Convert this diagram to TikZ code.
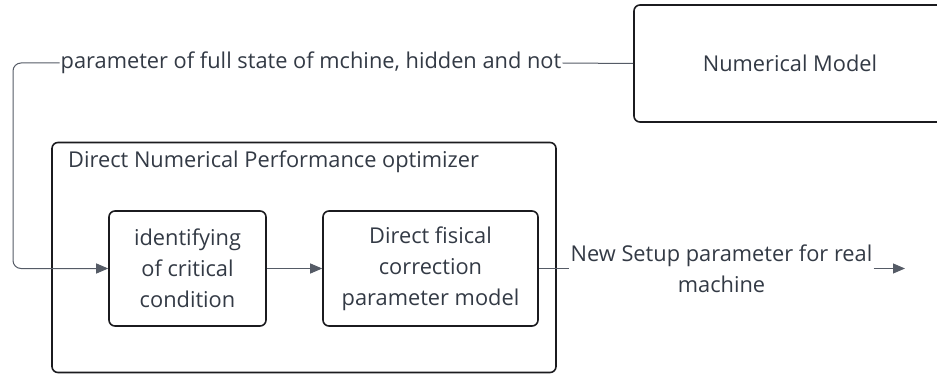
\documentclass[tikz,border=0pt]{standalone}
\usepackage{fontspec}
\setmainfont{Open Sans}
\usetikzlibrary{arrows.meta,positioning}
\definecolor{ink}{HTML}{333A45}
\definecolor{wire}{HTML}{555B66}
\definecolor{edge}{HTML}{1B1B1F}
\tikzset{
  x=1pt, y=-1pt,
  txt/.style={text=ink, font=\fontsize{21.8}{31}\selectfont},
  block/.style={draw=edge, line width=1.6pt, rounded corners=6pt, txt, align=center, inner sep=0pt},
  link/.style={draw=wire, line width=1pt, -{Triangle[length=12pt,width=10pt]}},
  plain/.style={draw=wire, line width=1pt}
}
\begin{document}
\begin{tikzpicture}
\clip (0,0) rectangle (937,374);
\fill[white] (0,0) rectangle (937,374);

% top-right model block (runs past the right edge)
\node[block, minimum width=312pt, minimum height=117pt] (model) at (790,63.5) {};
\node[txt] (modeltext) at (790,63.5) {Numerical Model};

% optimizer container
\node[block, minimum width=504pt, minimum height=230pt] (opt) at (304,257.5) {};
\node[txt, anchor=west, inner sep=0pt] (opttitle) at (68,162) {Direct Numerical Performance optimizer};

% inner steps
\node[block, minimum width=157pt, minimum height=115pt] (ident) at (187.5,268.5)
  {identifying\\of critical\\condition};
\node[block, minimum width=215pt, minimum height=115pt] (corr) at (430.5,268.5)
  {Direct fisical\\correction\\parameter model};

% feedback from the model
\coordinate (fbtop) at (13,63);
\node[txt, fill=white, inner sep=1pt] (fblabel) at (311,63)
  {parameter of full state of mchine, hidden and not};
\draw[plain, rounded corners=8pt] (model.west) -- (fblabel.east);
\draw[link, rounded corners=8pt] (fblabel.west) -- (fbtop) |- (ident.west);

\draw[link] (ident.east) -- (corr.west);

% output to the real machine
\coordinate (outend) at (905,268.5);
\node[txt, align=center, inner sep=1pt] (outlabel) at (721.5,269)
  {New Setup parameter for real\\machine};
\draw[plain] (corr.east) -- (outlabel.west |- corr.east);
\draw[link] (outlabel.east |- corr.east) -- (outend);
\end{tikzpicture}
\end{document}
